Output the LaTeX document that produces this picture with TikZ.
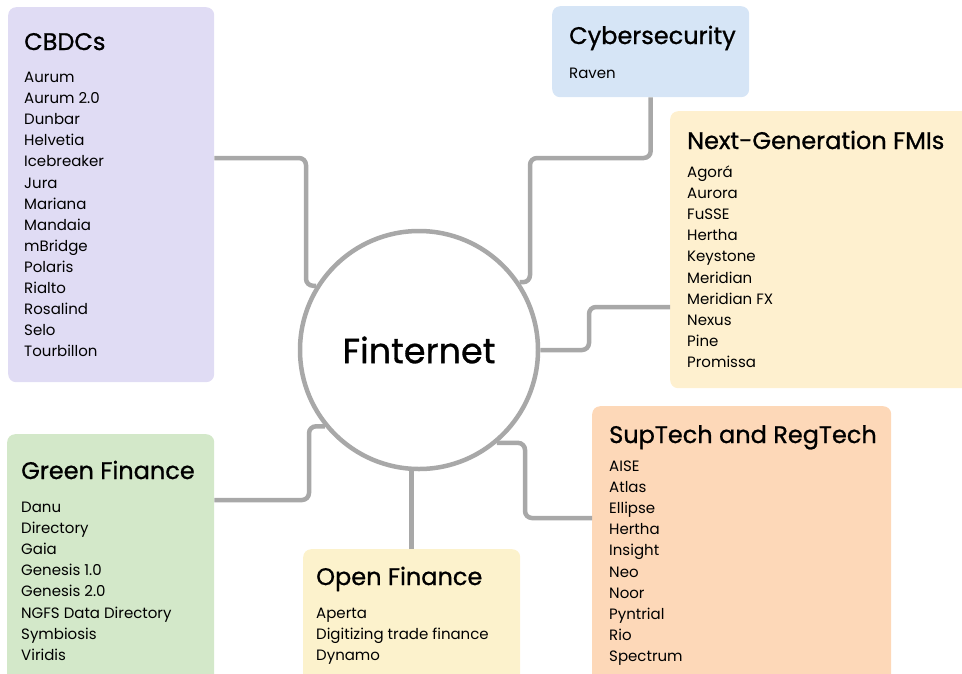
\documentclass[tikz,border=0pt]{standalone}
\usepackage{fontspec}
\setmainfont{Poppins}
\newfontfamily\headfont{Poppins}[FakeBold=0.9]
\usepackage{xcolor}
\definecolor{lilac}{HTML}{E0DCF4}
\definecolor{sky}{HTML}{D6E5F6}
\definecolor{cream}{HTML}{FEF0CF}
\definecolor{peach}{HTML}{FDD8B8}
\definecolor{sage}{HTML}{D3E8C9}
\definecolor{butter}{HTML}{FCF2CC}
\definecolor{wire}{HTML}{A8A8A8}
\usepackage{tikz}
\tikzset{
  panel/.style={draw=none,rounded corners=8pt,anchor=north west,inner sep=0pt},
  ttl/.style={anchor=base west,inner sep=0pt,font=\headfont\fontsize{24}{28}\selectfont},
  itm/.style={anchor=base west,inner sep=0pt,font=\fontsize{15}{17}\selectfont},
  link/.style={draw=wire,line width=4.5pt,rounded corners=7pt},
  hub/.style={circle,draw=wire,line width=4.5pt,fill=white,minimum size=238pt,
              font=\headfont\fontsize{35}{40}\selectfont},
}

\begin{document}
\begin{tikzpicture}[x=1pt,y=-1pt]
  \clip (0,0) rectangle (962,673);

  % ---- panels ----
  \node[panel,fill=lilac,minimum width=206pt,minimum height=375pt] (cbdc) at (8,7) {};
  \node[panel,fill=sky,minimum width=197pt,minimum height=91pt] (cyber) at (552,6) {};
  \node[panel,fill=cream,minimum width=320pt,minimum height=277pt] (fmi) at (670,111) {};
  \node[panel,fill=peach,minimum width=299pt,minimum height=290pt] (sup) at (592,406) {};
  \node[panel,fill=sage,minimum width=207pt,minimum height=260pt] (green) at (7,434) {};
  \node[panel,fill=butter,minimum width=217pt,minimum height=150pt] (open) at (303,549) {};

  \node[hub] (fin) at (419,350) {Finternet};

  % ---- connectors ----
  \coordinate (k1) at (306,158);
  \coordinate (k2) at (530,158);
  \coordinate (k3) at (589,307);
  \coordinate (k4) at (309,500);
  \coordinate (k6) at (525,518);
  \draw[link] (cbdc.east |- k1) -- (k1) |- (fin.148);
  \draw[link] (cyber.south) |- (k2) |- (fin.34);
  \draw[link] (fin.east) -| (k3) -- (fmi.west |- k3);
  \draw[link] (green.east |- k4) -- (k4) |- (fin.219);
  \draw[link] (open.north) -- (open.north |- fin.south);
  \draw[link] (fin.310) -| (k6) -- (sup.west |- k6);

  % ---- titles ----
  \node[ttl] (cbdc-t) at (24,50) {CBDCs};
  \node[ttl] (cyber-t) at (569,44) {Cybersecurity};
  \node[ttl] (fmi-t) at (687,149) {Next-Generation FMIs};
  \node[ttl] (sup-t) at (609,443) {SupTech and RegTech};
  \node[ttl] (green-t) at (21,479) {Green Finance};
  \node[ttl] (open-t) at (316,585) {Open Finance};

  % ---- project lists ----
  \foreach \t [count=\i from 0] in {Aurum,Aurum 2.0,Dunbar,Helvetia,Icebreaker,Jura,Mariana,
      Mandaia,mBridge,Polaris,Rialto,Rosalind,Selo,Tourbillon}
    \node[itm] (cbdc-\i) at (24,{82.5+\i*21.1}) {\t};
  \node[itm] (cyber-0) at (569,78.5) {Raven};
  \foreach \t [count=\i from 0] in {Agorá,Aurora,FuSSE,Hertha,Keystone,Meridian,Meridian FX,
      Nexus,Pine,Promissa}
    \node[itm] (fmi-\i) at (687,{177.5+\i*21.1}) {\t};
  \foreach \t [count=\i from 0] in {AISE,Atlas,Ellipse,Hertha,Insight,Neo,Noor,Pyntrial,Rio,Spectrum}
    \node[itm] (sup-\i) at (609,{471.5+\i*21.1}) {\t};
  \foreach \t [count=\i from 0] in {Danu,Directory,Gaia,Genesis 1.0,Genesis 2.0,
      NGFS Data Directory,Symbiosis,Viridis}
    \node[itm] (green-\i) at (21,{512.5+\i*21.1}) {\t};
  \foreach \t [count=\i from 0] in {Aperta,Digitizing trade finance,Dynamo}
    \node[itm] (open-\i) at (316,{618.5+\i*21.1}) {\t};
\end{tikzpicture}
\end{document}
